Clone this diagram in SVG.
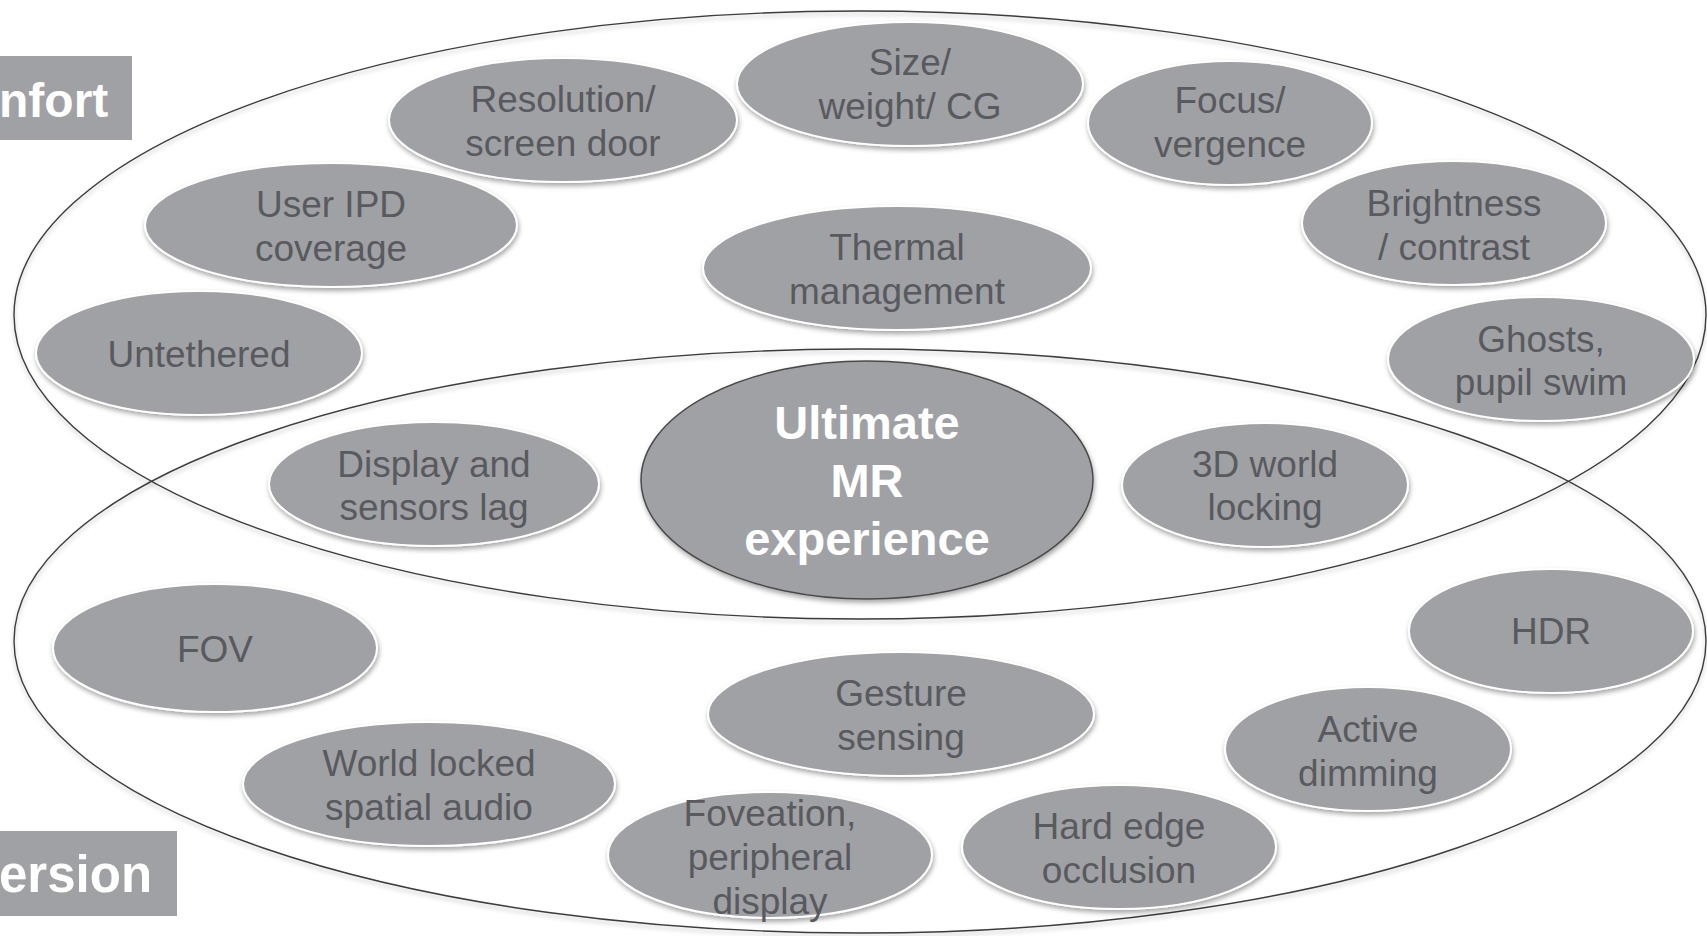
<svg xmlns="http://www.w3.org/2000/svg" width="1707" height="936" viewBox="0 0 1707 936">
<defs>
<filter id="sh" x="-10%" y="-10%" width="120%" height="135%">
<feDropShadow dx="1" dy="3" stdDeviation="2.5" flood-color="#000" flood-opacity="0.35"/>
</filter>
<filter id="shl" x="-5%" y="-5%" width="110%" height="115%">
<feDropShadow dx="0" dy="3" stdDeviation="2" flood-color="#000" flood-opacity="0.25"/>
</filter>
</defs>
<style>
.bg{fill:#ffffff}
.ring{fill:none;stroke:#3c3c3c;stroke-width:1.4}
.n{fill:#a0a1a5;stroke:#ffffff;stroke-width:2}
.c{fill:#a0a1a5;stroke:#4a4a4a;stroke-width:1.5}
.t{font-family:"Liberation Sans",Arial,sans-serif;font-size:37px;fill:#595a5e;text-anchor:middle}
.tb{font-family:"Liberation Sans",Arial,sans-serif;font-size:47px;font-weight:bold;fill:#ffffff;text-anchor:middle}
.lb{fill:#a0a1a5}
.lt{font-family:"Liberation Sans",Arial,sans-serif;font-weight:bold;fill:#ffffff}
</style>
<rect class="bg" x="0" y="0" width="1707" height="936"/>

<g id="containers">
<ellipse class="ring" filter="url(#shl)" cx="860" cy="315" rx="846" ry="304"/>
<ellipse class="ring" filter="url(#shl)" cx="860" cy="641" rx="846" ry="292"/>
</g>

<g id="label-comfort">
<rect class="lb" x="0" y="56" width="132" height="84"/>
<text class="lt" x="-1" y="117" font-size="48">nfort</text>
</g>
<g id="label-immersion">
<rect class="lb" x="0" y="831" width="177" height="85"/>
<text class="lt" x="-1" y="892" font-size="51">ersion</text>
</g>

<g id="n-resolution">
<ellipse class="n" filter="url(#sh)" cx="563" cy="120" rx="174" ry="62"/>
<text class="t" x="563" y="112">Resolution/</text>
<text class="t" x="563" y="156">screen door</text>
</g>
<g id="n-size">
<ellipse class="n" filter="url(#sh)" cx="910" cy="84" rx="173" ry="62"/>
<text class="t" x="910" y="75">Size/</text>
<text class="t" x="910" y="119">weight/ CG</text>
</g>
<g id="n-focus">
<ellipse class="n" filter="url(#sh)" cx="1230" cy="123" rx="142" ry="62"/>
<text class="t" x="1230" y="113">Focus/</text>
<text class="t" x="1230" y="157">vergence</text>
</g>
<g id="n-ipd">
<ellipse class="n" filter="url(#sh)" cx="331" cy="225" rx="186" ry="62"/>
<text class="t" x="331" y="217">User IPD</text>
<text class="t" x="331" y="261">coverage</text>
</g>
<g id="n-thermal">
<ellipse class="n" filter="url(#sh)" cx="897" cy="268" rx="194" ry="62"/>
<text class="t" x="897" y="260">Thermal</text>
<text class="t" x="897" y="304">management</text>
</g>
<g id="n-brightness">
<ellipse class="n" filter="url(#sh)" cx="1454" cy="223" rx="152" ry="62"/>
<text class="t" x="1454" y="216">Brightness</text>
<text class="t" x="1454" y="260">/ contrast</text>
</g>
<g id="n-untethered">
<ellipse class="n" filter="url(#sh)" cx="199" cy="353" rx="163" ry="62"/>
<text class="t" x="199" y="367">Untethered</text>
</g>
<g id="n-ghosts">
<ellipse class="n" filter="url(#sh)" cx="1541" cy="359" rx="153" ry="62"/>
<text class="t" x="1541" y="352">Ghosts,</text>
<text class="t" x="1541" y="395">pupil swim</text>
</g>
<g id="n-display">
<ellipse class="n" filter="url(#sh)" cx="434" cy="484" rx="165" ry="62"/>
<text class="t" x="434" y="477">Display and</text>
<text class="t" x="434" y="520">sensors lag</text>
</g>
<g id="n-ultimate">
<ellipse class="c" filter="url(#sh)" cx="867" cy="480" rx="226" ry="119"/>
<text class="tb" x="867" y="439">Ultimate</text>
<text class="tb" x="867" y="497">MR</text>
<text class="tb" x="867" y="555">experience</text>
</g>
<g id="n-3d">
<ellipse class="n" filter="url(#sh)" cx="1265" cy="485" rx="143" ry="62"/>
<text class="t" x="1265" y="477">3D world</text>
<text class="t" x="1265" y="520">locking</text>
</g>
<g id="n-fov">
<ellipse class="n" filter="url(#sh)" cx="215" cy="648" rx="162" ry="64"/>
<text class="t" x="215" y="662">FOV</text>
</g>
<g id="n-hdr">
<ellipse class="n" filter="url(#sh)" cx="1551" cy="631" rx="142" ry="62"/>
<text class="t" x="1551" y="644">HDR</text>
</g>
<g id="n-gesture">
<ellipse class="n" filter="url(#sh)" cx="901" cy="714" rx="193" ry="62"/>
<text class="t" x="901" y="706">Gesture</text>
<text class="t" x="901" y="750">sensing</text>
</g>
<g id="n-active">
<ellipse class="n" filter="url(#sh)" cx="1368" cy="749" rx="143" ry="62"/>
<text class="t" x="1368" y="742">Active</text>
<text class="t" x="1368" y="786">dimming</text>
</g>
<g id="n-audio">
<ellipse class="n" filter="url(#sh)" cx="429" cy="784" rx="186" ry="62"/>
<text class="t" x="429" y="776">World locked</text>
<text class="t" x="429" y="820">spatial audio</text>
</g>
<g id="n-foveation">
<ellipse class="n" filter="url(#sh)" cx="770" cy="855" rx="162" ry="63"/>
<text class="t" x="770" y="826">Foveation,</text>
<text class="t" x="770" y="870">peripheral</text>
<text class="t" x="770" y="914">display</text>
</g>
<g id="n-hardedge">
<ellipse class="n" filter="url(#sh)" cx="1119" cy="847" rx="157" ry="62"/>
<text class="t" x="1119" y="839">Hard edge</text>
<text class="t" x="1119" y="883">occlusion</text>
</g>
</svg>
